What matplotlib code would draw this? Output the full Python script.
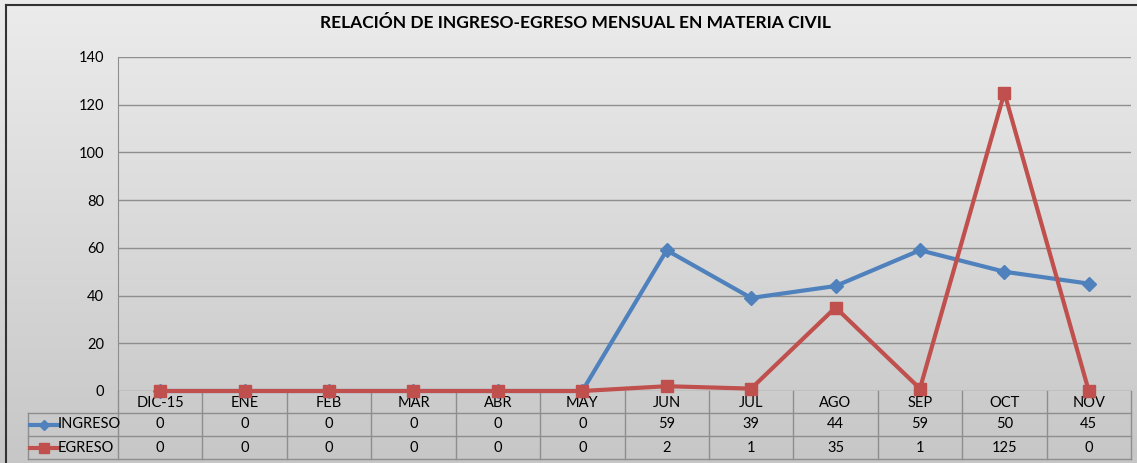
import matplotlib
matplotlib.use("Agg")
import matplotlib.pyplot as plt
import matplotlib.transforms as mtransforms
import numpy as np
from matplotlib.lines import Line2D

months = ["DIC-15", "ENE", "FEB", "MAR", "ABR", "MAY", "JUN", "JUL", "AGO", "SEP", "OCT", "NOV"]
ingreso = [0, 0, 0, 0, 0, 0, 59, 39, 44, 59, 50, 45]
egreso = [0, 0, 0, 0, 0, 0, 2, 1, 35, 1, 125, 0]
series_names = ["INGRESO", "EGRESO"]
yticks = [0, 20, 40, 60, 80, 100, 120, 140]

BLUE = "#4f81bd"
RED = "#c0504d"
GRID = "#8e8e8e"
FONT = ["Lato", "DejaVu Sans"]
FS = 10.5

W, H = 1137, 463
fig = plt.figure(figsize=(W / 100, H / 100), dpi=100)

# gradient background
bg = fig.add_axes([0, 0, 1, 1], zorder=-10)
grad = np.linspace(0.925, 0.78, 256).reshape(-1, 1)
bg.imshow(np.dstack([grad, grad, grad]), aspect="auto", extent=[0, 1, 0, 1])
bg.set_axis_off()

# outer frame (top and left edges)
fig.add_artist(Line2D([6 / W, 6 / W], [0, 1 - 5 / H], color="#333333", lw=1.5))
fig.add_artist(Line2D([6 / W, 1], [1 - 5 / H, 1 - 5 / H], color="#333333", lw=1.5))

L, R, T, B = 118, 1131, 57, 391
ax = fig.add_axes([L / W, 1 - B / H, (R - L) / W, (B - T) / H])
ax.patch.set_alpha(0)

x = np.arange(len(months))
ax.plot(x, ingreso, color=BLUE, lw=3, marker="D", ms=7, zorder=3, clip_on=False)
ax.plot(x, egreso, color=RED, lw=3, marker="s", ms=9, zorder=4, clip_on=False)

ax.set_xlim(-0.5, len(months) - 0.5)
ax.set_ylim(0, 140)
ax.set_yticks(yticks)
ax.set_yticklabels([str(v) for v in yticks], family=FONT, fontsize=FS)
ax.tick_params(axis="y", length=0, pad=10)
ax.set_xticks([])
ax.grid(axis="y", color=GRID, lw=1)
for s in ["top", "right", "bottom"]:
    ax.spines[s].set_visible(False)
ax.spines["left"].set_color(GRID)
ax.set_axisbelow(True)

ax.set_title("RELACIÓN DE INGRESO-EGRESO MENSUAL EN MATERIA CIVIL",
             family=FONT, fontsize=12.5, fontweight="bold", pad=21, x=0.452)

# data table below the plot
ph = B - T
def ya(py):
    return (B - py) / ph

tr = mtransforms.blended_transform_factory(ax.transData, ax.transAxes)
row_y = [ya(413), ya(436), ya(459)]
legend_left = (28 - L) / (R - L)

line_kw = dict(color=GRID, lw=1, clip_on=False)
# horizontal rows
for yy in row_y:
    ax.plot([legend_left, 1], [yy, yy], transform=ax.transAxes, **line_kw)
# vertical lines
ax.plot([0, 0], [0, row_y[-1]], transform=ax.transAxes, **line_kw)
ax.plot([legend_left, legend_left], [row_y[0], row_y[-1]], transform=ax.transAxes, **line_kw)
for i in range(len(months)):
    ax.plot([i + 0.5, i + 0.5], [0, row_y[-1]], transform=tr, **line_kw)

cat_y = (0 + row_y[0]) / 2 - 0.004
for i, m in enumerate(months):
    ax.text(i, cat_y, m, transform=tr, ha="center", va="center", family=FONT, fontsize=FS)

for r, (name, vals, col, mk, ms) in enumerate(zip(series_names, [ingreso, egreso],
                                                 [BLUE, RED], ["D", "s"], [5.5, 7.5])):
    yc = (row_y[r] + row_y[r + 1]) / 2
    for i, v in enumerate(vals):
        ax.text(i, yc, str(v), transform=tr, ha="center", va="center", family=FONT, fontsize=FS)
    x0 = (30 - L) / (R - L)
    x1 = (58 - L) / (R - L)
    ax.plot([x0, x1], [yc, yc], transform=ax.transAxes, color=col, lw=3, clip_on=False)
    ax.plot([(x0 + x1) / 2], [yc], transform=ax.transAxes, color=col, marker=mk, ms=ms, clip_on=False)
    ax.text((58 - L) / (R - L), yc, name, transform=ax.transAxes, ha="left", va="center",
            family=FONT, fontsize=FS)

fig.savefig("out.png", dpi=100)
